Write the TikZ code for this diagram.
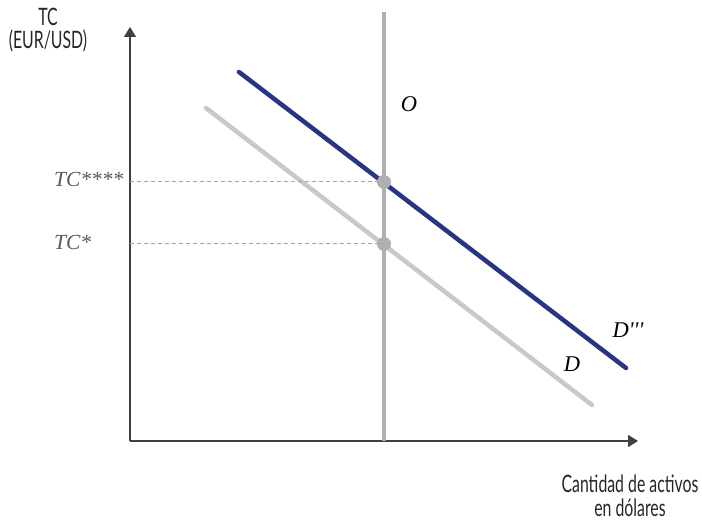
\documentclass[tikz,border=0pt]{standalone}
\usepackage{fontspec}
\usepackage{xcolor}
\usepackage{tikz}
\usetikzlibrary{arrows.meta, positioning}
\setmainfont{Liberation Serif}
\newfontfamily\axisfont[FakeStretch=0.66]{Lato}
\definecolor{navy}{HTML}{283584}
\definecolor{lightgray}{HTML}{C8C8C8}
\definecolor{midgray}{HTML}{B0B0B0}
\definecolor{guidegray}{HTML}{A6A6A6}
\definecolor{axisgray}{HTML}{404040}
\definecolor{labelgray}{HTML}{595959}

\begin{document}
\begin{tikzpicture}[
  x=1pt, y=-1pt,
  axis/.style={draw=axisgray, line width=1.5pt, -{Triangle[length=10pt, width=12pt]}},
  axislabel/.style={font=\axisfont\fontsize{24}{23.5}\selectfont, text=black!85, align=center, inner sep=0pt},
  curvelabel/.style={font=\itshape\fontsize{22.5}{24}\selectfont, inner sep=0pt},
  pricelabel/.style={font=\itshape\fontsize{21.5}{22}\selectfont, text=labelgray, inner sep=0pt, anchor=west},
  guide/.style={draw=guidegray, line width=1pt, dash pattern=on 4pt off 3pt},
  eqpoint/.style={circle, fill=midgray, minimum size=14pt, inner sep=0pt}
]
\useasboundingbox (0,0) rectangle (702,521);

% axes
\coordinate (origin) at (130,441);
\coordinate (ytop) at (130,27);
\coordinate (xend) at (638,441);
\draw[axis] (origin) -- (ytop);
\draw[axis] (origin) -- (xend);
\node[axislabel] (ylab) at (48,30) {TC\\(EUR/USD)};
\node[axislabel] (xlab) at (630,496) {Cantidad de activos\\en dólares};

% supply (vertical)
\coordinate (otop) at (384,12);
\coordinate (obot) at (384,441);
\draw[draw=midgray, line width=4.5pt] (otop) -- (obot);

% demand curves
\coordinate (dstart) at (206,108);
\coordinate (dend) at (592,405);
\coordinate (dnstart) at (239,72);
\coordinate (dnend) at (626,368);
\draw[draw=lightgray, line width=4.5pt, line cap=round] (dstart) -- (dend);
\draw[draw=navy, line width=4.5pt, line cap=round] (dnstart) -- (dnend);

% equilibria
\coordinate (ynew) at (130,182);
\coordinate (yold) at (130,244);
\node[eqpoint] (enew) at (384,182) {};
\node[eqpoint] (eold) at (384,244) {};
\draw[guide] (ynew) -- (enew.center);
\draw[guide] (yold) -- (eold.center);

% labels
\node[pricelabel] (tcnew) at (54,179) {TC****};
\node[pricelabel] (tcold) at (54,242) {TC*};
\node[curvelabel] (olab) at (409,104) {O};
\node[curvelabel] (dnlab) at (628,330) {D\textquotesingle\textquotesingle\textquotesingle};
\node[curvelabel] (dlab) at (572,364) {D};
\end{tikzpicture}
\end{document}
